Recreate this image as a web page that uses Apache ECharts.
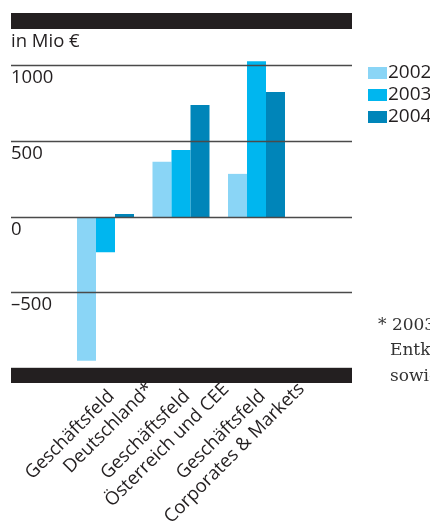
<!DOCTYPE html>
<html>
<head>
<meta charset="utf-8">
<script src="https://cdn.jsdelivr.net/npm/echarts@6/dist/echarts.min.js"></script>
<style>
  html, body { margin: 0; padding: 0; background: #fff; }
  #chart { width: 430px; height: 529px; }
</style>
</head>
<body>
<div id="chart"></div>
<script>
// Segment names, split into the two printed lines of each label
const labelLine1 = ['Geschäftsfeld', 'Geschäftsfeld', 'Geschäftsfeld'];
const labelLine2 = ['Deutschland*', 'Österreich und CEE', 'Corporates & Markets'];
const categories = ['Deutschland', 'Österreich und CEE', 'Corporates & Markets'];

// Result per segment, in Mio €
const years = ['2002', '2003', '2004'];
const values2002 = [-950, 365, 285];
const values2003 = [-233, 443, 1029];
const values2004 = [20, 740, 826];

// Value-axis ticks and their printed labels
const yTickValues = [-500, 0, 500, 1000];
const yTickLabels = ['–500', '0', '500', '1000'];

const unitLabel = 'in Mio €';
const footnoteLines = ['* 2003:', 'Entkonsolidierung', 'sowie'];

const colors = ['#8AD5F6', '#00B6EF', '#0085B9'];
const ink = '#231F20';
const sans = '"Open Sans", "Noto Sans", sans-serif';
const serif = '"DejaVu Serif", serif';

// Plot geometry
const plotTop = 65.7;
const plotBottom = 529 - 368.3;
const frameLeft = 11, frameRight = 430 - 352;
const barLeft = 67.75, barRight = 430 - 294.25;
const shift1 = 6, shift2 = 45;

const chart = echarts.init(document.getElementById('chart'), null, { renderer: 'canvas' });

function hiddenY(gridIndex) {
  return { type: 'value', gridIndex, min: -1000, max: 1000, interval: 500, show: false };
}
function labelAxis(gridIndex, data, margin) {
  return {
    type: 'category', gridIndex, data,
    axisLine: { show: false }, axisTick: { show: false }, splitLine: { show: false },
    axisLabel: { interval: 0, rotate: 45, margin, color: ink, fontFamily: sans, fontSize: 18.5 }
  };
}

const option = {
  animation: false,
  backgroundColor: '#fff',
  textStyle: { fontFamily: sans },
  grid: [
    { left: frameLeft, right: frameRight, top: plotTop, bottom: plotBottom },
    { left: barLeft, right: barRight, top: plotTop, bottom: plotBottom },
    { left: barLeft + shift1, right: barRight - shift1, top: plotTop, bottom: plotBottom },
    { left: barLeft + shift2, right: barRight - shift2, top: plotTop, bottom: plotBottom }
  ],
  xAxis: [
    { type: 'value', gridIndex: 0, show: false, min: 0, max: 1 },
    { type: 'category', gridIndex: 1, data: categories, show: false },
    labelAxis(2, labelLine1, 25),
    labelAxis(3, labelLine2, 33)
  ],
  yAxis: [
    {
      type: 'value', gridIndex: 0, min: -1000, max: 1000, interval: 500, z: 10,
      axisLine: { show: false }, axisTick: { show: false },
      splitLine: { show: true, lineStyle: { color: '#4a4a4a', width: 1.4 } },
      axisLabel: {
        inside: true, margin: 0, verticalAlign: 'top', padding: [3, 0, 0, 0],
        color: ink, fontFamily: sans, fontSize: 18.5,
        formatter: v => {
          const i = yTickValues.indexOf(v);
          return i >= 0 ? yTickLabels[i] : '';
        }
      }
    },
    hiddenY(1), hiddenY(2), hiddenY(3)
  ],
  legend: {
    orient: 'vertical', left: 363, top: 57,
    itemWidth: 19, itemHeight: 12, itemGap: 0, icon: 'rect',
    textStyle: { color: ink, fontFamily: sans, fontSize: 19, lineHeight: 22, padding: [0, 0, 0, -4] },
    data: years
  },
  series: [values2002, values2003, values2004].map((vals, i) => ({
    name: years[i], type: 'bar', xAxisIndex: 1, yAxisIndex: 1,
    data: vals, barGap: 0, barCategoryGap: '24.5%', clip: false,
    itemStyle: { color: colors[i] }
  })),
  graphic: [
    { type: 'rect', z: 100, shape: { x: 11, y: 13, width: 341, height: 16 }, style: { fill: ink } },
    { type: 'rect', z: 100, shape: { x: 11, y: 368, width: 341, height: 15 }, style: { fill: ink } },
    { type: 'text', z: 100, x: 11, y: 42, style: { text: unitLabel, fill: ink, font: '18.5px ' + sans, verticalAlign: 'middle' } },
    { type: 'text', z: 100, x: 378, y: 326, style: { text: footnoteLines[0], fill: '#333', font: '17px ' + serif, verticalAlign: 'middle' } },
    { type: 'text', z: 100, x: 390, y: 351, style: { text: footnoteLines[1], fill: '#333', font: '17px ' + serif, verticalAlign: 'middle' } },
    { type: 'text', z: 100, x: 390, y: 377, style: { text: footnoteLines[2], fill: '#333', font: '17px ' + serif, verticalAlign: 'middle' } }
  ]
};

chart.setOption(option);
</script>
</body>
</html>
